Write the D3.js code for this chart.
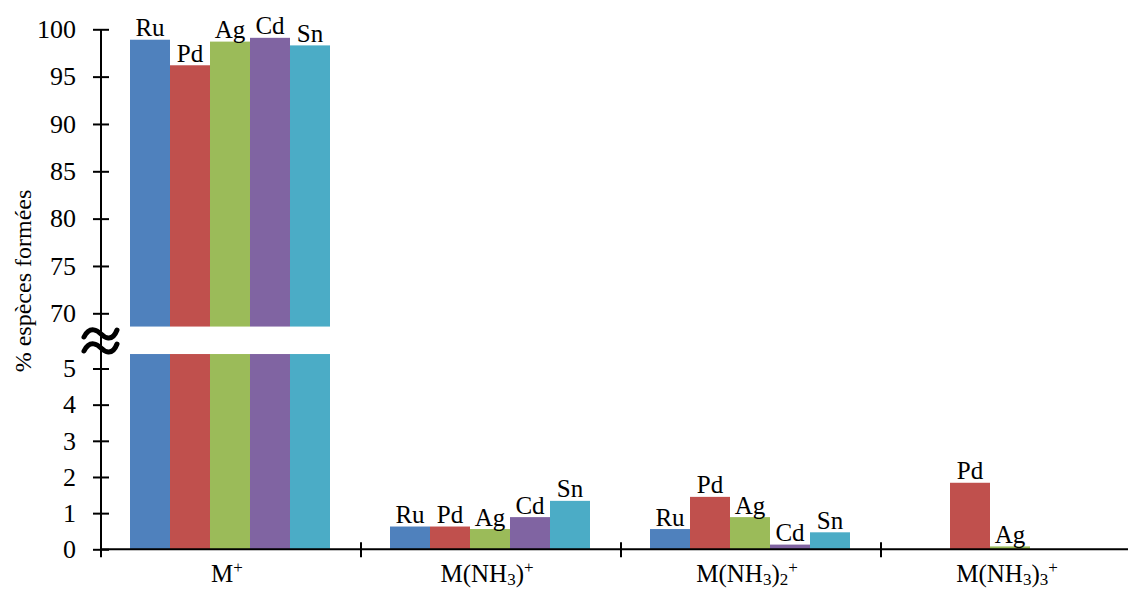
<!DOCTYPE html>
<html><head><meta charset="utf-8">
<script src="https://cdn.jsdelivr.net/npm/d3@7"></script>
<style>
html,body{margin:0;padding:0;background:#fff;}
svg{display:block;}
svg text{font-family:"Liberation Serif","Times New Roman",Times,serif;}
</style></head>
<body>
<svg id="chart" width="1128" height="590"></svg>
<script>
// ---- data ----
const categories = ["M+", "M(NH3)+", "M(NH3)2+", "M(NH3)3+"];
const metals = ["Ru", "Pd", "Ag", "Cd", "Sn"];
const colors = ["#4F81BD", "#C0504D", "#9BBB59", "#8064A2", "#4BACC6"];
const ru = [98.9, 0.63, 0.56, 0];
const pd = [96.2, 0.63, 1.45, 1.84];
const ag = [98.7, 0.56, 0.89, 0.08];
const cd = [99.1, 0.89, 0.13, 0];
const sn = [98.3, 1.34, 0.47, 0];
const topTicks = [70, 75, 80, 85, 90, 95, 100];
const bottomTicks = [0, 1, 2, 3, 4, 5];
const breakLow = 5.4, breakHigh = 68.6;
const yTitle = "% espèces formées";

const series = [ru, pd, ag, cd, sn];
const svg = d3.select("#chart");

const x = d3.scaleBand().domain(categories).range([101, 1141]).padding(0);
const xInner = d3.scaleBand().domain(metals).range([29, 229]).padding(0);
const yTop = d3.scaleLinear().domain([70, 100]).range([313.3, 29.3]);
const yBot = d3.scaleLinear().domain([0, 5]).range([549.3, 368.5]);
const color = d3.scaleOrdinal().domain(metals).range(colors);

const data = [];
categories.forEach((c, ci) => metals.forEach((m, mi) => data.push({cat: c, metal: m, v: series[mi][ci]})));

const g = svg.append("g");
data.forEach(d => {
  if (d.v <= 0) return;
  const bx = x(d.cat) + xInner(d.metal), bw = xInner.bandwidth();
  const lowTop = Math.min(d.v, breakLow);
  g.append("rect").attr("x", bx).attr("width", bw)
    .attr("y", yBot(lowTop)).attr("height", yBot(0) - yBot(lowTop))
    .attr("fill", color(d.metal));
  let labelY = yBot(d.v);
  if (d.v > breakHigh) {
    g.append("rect").attr("x", bx).attr("width", bw)
      .attr("y", yTop(d.v)).attr("height", yTop(breakHigh) - yTop(d.v))
      .attr("fill", color(d.metal));
    labelY = yTop(d.v);
  }
  g.append("text").attr("x", bx + bw / 2).attr("y", labelY - 3.5)
    .attr("text-anchor", "middle").attr("font-size", 25).attr("fill", "#000")
    .text(d.metal);
});

// y axes
const axisX = 101;
const yAxTop = d3.axisLeft(yTop).tickValues(topTicks).tickSize(0).tickPadding(25).tickFormat(d3.format("d"));
const yAxBot = d3.axisLeft(yBot).tickValues(bottomTicks).tickSize(0).tickPadding(25).tickFormat(d3.format("d"));
[yAxTop, yAxBot].forEach(ax => {
  const a = svg.append("g").attr("transform", `translate(${axisX},0)`).call(ax);
  a.attr("font-family", null).attr("font-size", null);
  a.select(".domain").remove();
  a.selectAll("text").attr("font-size", 26).attr("fill", "#000");
  a.selectAll(".tick").append("line").attr("x1", -8).attr("x2", 8).attr("stroke", "#000").attr("stroke-width", 2);
});
svg.append("line").attr("x1", axisX).attr("x2", axisX).attr("y1", yTop(100)).attr("y2", yBot(0))
  .attr("stroke", "#000").attr("stroke-width", 2);

// break symbol
const tilde = (yc) => {
  const p = d3.path();
  p.moveTo(84, yc + 3);
  p.bezierCurveTo(90, yc - 9, 98, yc - 3, 101, yc);
  p.bezierCurveTo(104, yc + 3, 112, yc + 9, 117, yc - 4);
  return p.toString();
};
[334, 348].forEach(yc => svg.append("path").attr("d", tilde(yc)).attr("fill", "none")
  .attr("stroke", "#000").attr("stroke-width", 5).attr("stroke-linecap", "round"));

// x axis
svg.append("line").attr("x1", axisX).attr("x2", 1141).attr("y1", yBot(0)).attr("y2", yBot(0))
  .attr("stroke", "#000").attr("stroke-width", 2);
categories.forEach(c => {
  svg.append("line").attr("x1", x(c)).attr("x2", x(c)).attr("y1", yBot(0) - 7).attr("y2", yBot(0) + 8)
    .attr("stroke", "#000").attr("stroke-width", 2);
});

// x labels
const labelParts = {
  "M+": [["M", 0], ["+", 1]],
  "M(NH3)+": [["M(NH", 0], ["3", -1], [")", 0], ["+", 1]],
  "M(NH3)2+": [["M(NH", 0], ["3", -1], [")", 0], ["2", -1], ["+", 1]],
  "M(NH3)3+": [["M(NH", 0], ["3", -1], [")", 0], ["3", -1], ["+", 1]]
};
const shift = {"0": 0, "1": -9, "-1": 3};
categories.forEach(c => {
  const t = svg.append("text").attr("x", x(c) + x.bandwidth() / 2 - 4).attr("y", 582)
    .attr("text-anchor", "middle").attr("font-size", 25).attr("fill", "#000");
  let prev = 0;
  labelParts[c].forEach(([s, pos]) => {
    const off = shift[pos];
    t.append("tspan").attr("dy", off - prev).attr("font-size", pos === 0 ? 25 : 17).text(s);
    prev = off;
  });
});

// y title
svg.append("text").attr("transform", "translate(31,281) rotate(-90)")
  .attr("text-anchor", "middle").attr("font-size", 24).attr("fill", "#000").text(yTitle);
</script>
</body></html>
